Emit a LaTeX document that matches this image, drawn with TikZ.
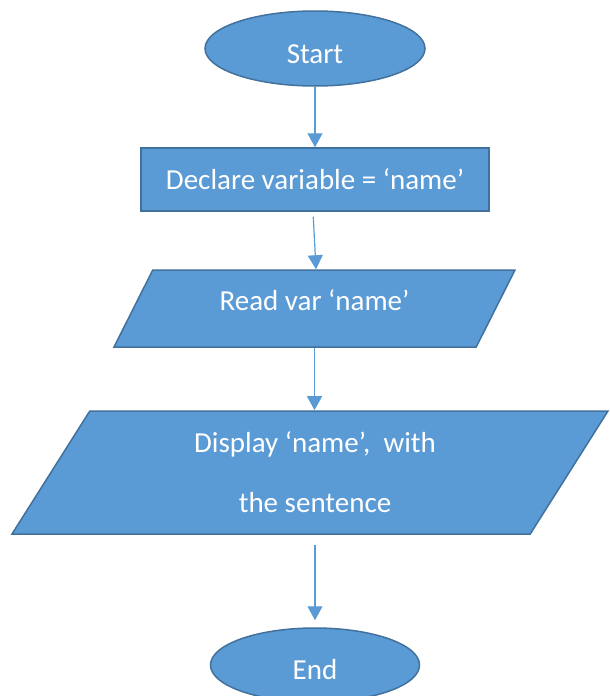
\documentclass[tikz,border=0pt]{standalone}
\usepackage{fontspec}
\setmainfont{Carlito}
\usetikzlibrary{shapes.geometric,arrows.meta}
\definecolor{boxblue}{HTML}{5B9BD5}
\definecolor{edgeblue}{HTML}{41719C}
\begin{document}
\begin{tikzpicture}[x=1pt,y=-1pt,
		box/.style={draw=edgeblue,fill=boxblue,line width=1.5pt,text=white,font=\fontsize{29}{35}\selectfont,inner sep=0pt,align=center},
		term/.style={box,ellipse,text height=29pt,text depth=0pt},
		proc/.style={box,rectangle},
		io/.style={box,trapezium,trapezium stretches body},
		flow/.style={draw=boxblue,line width=1.2pt,-{Triangle[width=15pt,length=14pt]}}]
		\useasboundingbox (0,0) rectangle (610,696);
		\node[term,minimum width=220,minimum height=75] (start) at (315,48.5) {Start};
		\node[proc,minimum width=348,minimum height=63] (decl) at (315,179.5) {Declare variable = ‘name’};
		\node[io,trapezium left angle=43.6,trapezium right angle=136.4,minimum width=401,minimum height=77,text depth=16pt] (read) at (314.5,308.5) {Read var ‘name’};
		\node[io,trapezium left angle=46.2,trapezium right angle=133.8,minimum width=596,minimum height=123] (disp) at (310,472.5) {\hspace*{10pt}Display ‘name’,~ with\\[25pt] \hspace*{10pt}the sentence};
		\node[term,minimum width=209,minimum height=74] (end) at (315,665) {End};
		\draw[flow] (start) -- (decl);
		\draw[flow,shorten <=5pt] ([xshift=-2pt]decl.south) -- ([xshift=1.5pt]read.north);
		\draw[flow] (read.south) -- (read.south |- disp.north);
		\draw[flow,shorten <=10pt,shorten >=7pt] (end.north |- disp.south) -- (end.north);
	\end{tikzpicture}
\end{document}
